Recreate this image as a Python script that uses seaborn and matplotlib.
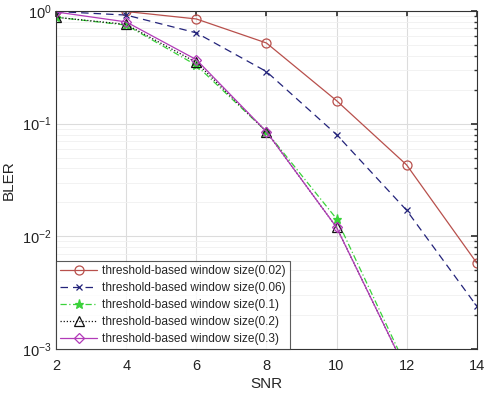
import matplotlib
matplotlib.use("Agg")
import matplotlib.pyplot as plt
import seaborn as sns
import numpy as np
import pandas as pd
from matplotlib.ticker import LogLocator, NullFormatter

snr = [2, 4, 6, 8, 10, 12, 14]
bler_002 = [1.0, 0.99, 0.85, 0.52, 0.16, 0.043, 0.0058]
bler_006 = [0.99, 0.92, 0.64, 0.29, 0.08, 0.017, 0.0024]
bler_01 = [0.88, 0.75, 0.33, 0.085, 0.0143, 0.00068]
bler_02 = [0.88, 0.76, 0.35, 0.085, 0.012, 0.00063]
bler_03 = [0.98, 0.80, 0.37, 0.085, 0.012, 0.00063]
labels = ["threshold-based window size(0.02)",
          "threshold-based window size(0.06)",
          "threshold-based window size(0.1)",
          "threshold-based window size(0.2)",
          "threshold-based window size(0.3)"]

series = [bler_002, bler_006, bler_01, bler_02, bler_03]
styles = [
    dict(color="#b8504c", marker="o", ls="-", mfc="none", ms=6.5),
    dict(color="#23237a", marker="x", ls=(0, (6, 4)), mfc="none", ms=5),
    dict(color="#3ad23a", marker="*", ls=(0, (5, 2, 1, 2)), mfc="#3ad23a", ms=6.5),
    dict(color="#111111", marker="^", ls=(0, (1, 1.5)), mfc="none", ms=6.5),
    dict(color="#b23ab8", marker="D", ls="-", mfc="none", ms=5.5),
]

sns.set_theme(style="white")
plt.rcParams['font.family'] = ['Liberation Sans', 'DejaVu Sans']

fig = plt.figure(figsize=(4.88, 3.93), dpi=100)
ax = fig.add_axes([0.115, 0.112, 0.862, 0.86])

for vals, lab, st in zip(series, labels, styles):
    df = pd.DataFrame({"SNR": snr[:len(vals)], "BLER": vals})
    sns.lineplot(data=df, x="SNR", y="BLER", ax=ax, color=st["color"],
                 marker=st["marker"], linestyle=st["ls"], linewidth=0.9,
                 markersize=st["ms"], markerfacecolor=st["mfc"],
                 markeredgecolor=st["color"], markeredgewidth=0.9, label=lab)

ax.set_yscale("log")
ax.set_xlim(2, 14)
ax.set_ylim(1e-3, 1)
ax.set_xticks(snr)
ax.yaxis.set_minor_locator(LogLocator(base=10, subs=np.arange(2, 10)))
ax.yaxis.set_minor_formatter(NullFormatter())
ax.grid(True, which="major", color="#dcdcdc", linewidth=0.8)
ax.grid(True, which="minor", axis="y", color="#f0f0f0", linewidth=0.6)
ax.tick_params(which="both", direction="in", top=True, right=True, labelsize=10.5, colors="#333333", labelcolor="#222222")
ax.tick_params(which="major", length=4)
ax.tick_params(which="minor", length=2)
ax.tick_params(axis="x", pad=7)
for s in ax.spines.values():
    s.set_color("#333333")
    s.set_linewidth(0.8)
ax.set_xlabel("SNR", fontsize=11, labelpad=3)
ax.set_ylabel("BLER", fontsize=11, labelpad=4)

leg = ax.legend(loc="lower left", fontsize=8.6, frameon=True, fancybox=False,
                edgecolor="#333333", borderpad=0.35, labelspacing=0.42,
                handlelength=3.1, handletextpad=0.4, borderaxespad=0)
leg.get_frame().set_linewidth(0.8)

fig.savefig("out.png", dpi=100)
